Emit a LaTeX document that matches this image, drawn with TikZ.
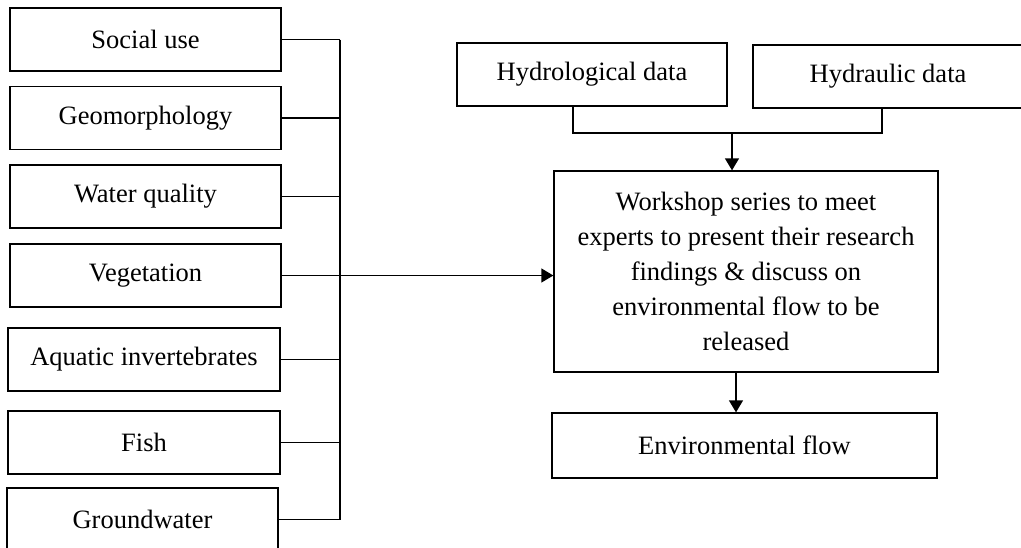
\documentclass[tikz,border=0pt]{standalone}
\usepackage{fontspec}
\setmainfont{Liberation Serif}
\usepackage{tikz}
\usetikzlibrary{arrows.meta,positioning}
\tikzstyle{factor} = [rectangle, minimum width=271pt, minimum height=63pt, text centered, draw=black, line width=1.3pt]
\tikzstyle{data} = [rectangle, minimum width=270pt, minimum height=63pt, text centered, draw=black, line width=1.3pt]
\tikzstyle{process} = [rectangle, minimum width=384pt, text centered, align=center, draw=black, line width=1.3pt]
\tikzstyle{line} = [line width=1.3pt]
\tikzstyle{arrow} = [line width=1.3pt, -{Triangle[length=12pt,width=14pt]}]

\begin{document}
\begin{tikzpicture}[x=1pt, y=-1pt, font=\fontsize{26.5}{35}\selectfont]
\useasboundingbox (0,0) rectangle (1021,547);
% left column of study fields
\node (social) [factor] at (145.5,39.5) {Social use};
\node (geomorph) [factor] at (145.5,118) {Geomorphology};
\node (quality) [factor] at (145.5,196.5) {Water quality};
\node (veget) [factor] at (145.5,275.5) {Vegetation};
\node (invert) [factor, minimum width=272pt] at (144,359.5) {Aquatic invertebrates};
\node (fish) [factor, minimum width=272pt] at (144,442.5) {Fish};
\node (ground) [factor] at (142.5,519.5) {Groundwater};
% right column
\node (hydro) [data] at (592,74.5) {Hydrological data};
\node (hydraul) [data] at (888,76.5) {Hydraulic data};
\node (work) [process, minimum height=201pt] at (746,271.5) {Workshop series to meet\\experts to present their research\\findings \& discuss on\\environmental flow to be\\released};
\node (env) [process, minimum width=385pt, minimum height=65pt] at (744.5,445.5) {Environmental flow};

\coordinate (bus) at (340,275.5);
\coordinate (hjoin) at (732,133);
\coordinate (vjoin) at (736,372);

\foreach \f in {social,geomorph,quality,veget,invert,fish,ground}
  \draw [line] (\f.east) -- (\f.east -| bus);
\draw [line] (social.east -| bus) -- (ground.east -| bus);
\draw [arrow] (veget.east -| bus) -- (veget.east -| work.west);

\draw [line] ([xshift=-19pt]hydro.south) |- (hjoin) -| ([xshift=-6pt]hydraul.south);
\draw [arrow] (hjoin) -- (hjoin |- work.north);
\draw [arrow] (vjoin |- work.south) -- (vjoin |- env.north);
\end{tikzpicture}
\end{document}
